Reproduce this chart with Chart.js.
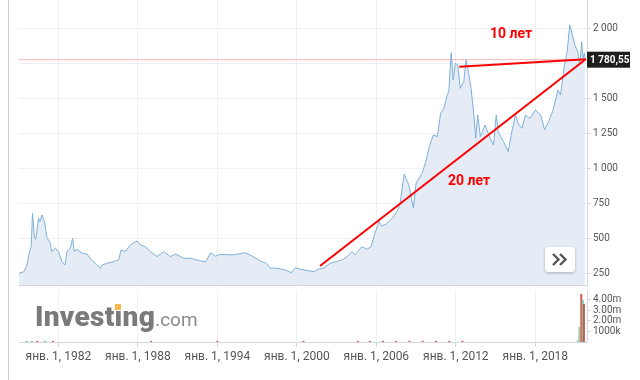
<!DOCTYPE html>
<html>
<head>
<meta charset="utf-8">
<script src="https://cdn.jsdelivr.net/npm/chart.js@4.4.1/dist/chart.umd.min.js"></script>
<style>
  html,body{margin:0;padding:0;background:#fff;width:640px;height:380px;overflow:hidden;}
  #wrap{position:relative;width:640px;height:380px;}
  #cA{position:absolute;left:0;top:0;}
  #cB{position:absolute;left:0;top:286px;}
  #border{position:absolute;left:8px;top:0;width:1px;height:380px;background:#cfcfcf;}
  #logo{position:absolute;left:35px;top:303px;font-family:Roboto,Arial,sans-serif;line-height:28px;white-space:nowrap;}
  #logo .a{font-size:28px;font-weight:900;color:#7a7a7a;letter-spacing:0.3px;}
  #logo .b{font-size:19px;font-weight:normal;color:#8a8a8a;}
  #dot{position:absolute;left:115px;top:304px;width:6px;height:6px;background:#f7b84b;}
  #btn{position:absolute;left:545px;top:247px;width:30px;height:25px;background:#fff;border-radius:3px;box-shadow:0 1px 3px rgba(0,0,0,0.25);}
</style>
</head>
<body>
<div id="wrap">
  <canvas id="cA" width="640" height="286"></canvas>
  <canvas id="cB" width="640" height="94"></canvas>
  <div id="border"></div>
  <div id="logo"><span class="a">Investing</span><span class="b">.com</span></div>
  <div id="dot"></div>
  <div id="btn"><svg width="30" height="25" viewBox="0 0 30 25"><polyline points="8,7 13.5,12.5 8,18" fill="none" stroke="#555" stroke-width="2.4"/><polyline points="15,7 20.5,12.5 15,18" fill="none" stroke="#555" stroke-width="2.4"/></svg></div>
</div>
<script>
// ---- data ----
const XMIN = 1979.03, XMAX = 2021.9;
const tickYears = [1982, 1988, 1994, 2000, 2006, 2012, 2018];
const priceTicks = [250, 500, 750, 1000, 1250, 1500, 1750, 2000];
const volTicks = [1, 2, 3, 4];
const currentPrice = 1780.55;

const years = [1979.03,1979.4,1979.6,1979.8,1979.95,1980.05,1980.2,1980.3,1980.5,1980.6,1980.77,1980.95,
1981.15,1981.35,1981.5,1981.77,1982.0,1982.27,1982.5,1982.65,1982.9,1983.08,1983.2,1983.4,1983.8,
1984.16,1984.5,1984.9,1985.17,1985.3,1985.67,1986.17,1986.55,1986.73,1987.06,1987.43,1987.94,
1988.2,1988.57,1988.94,1989.45,1989.95,1990.45,1990.83,1991.46,1991.96,1992.6,1993.1,1993.5,
1993.85,1994.2,1995.2,1996.1,1996.7,1997.2,1997.7,1998.0,1998.5,1999.1,1999.6,1999.9,2000.3,
2000.8,2001.3,2001.6,2002.0,2002.5,2003.0,2003.4,2003.8,2004.16,2004.4,2004.9,2005.3,2005.6,
2005.9,2006.2,2006.4,2006.75,2007.2,2007.55,2007.8,2008.1,2008.45,2008.8,2009.0,2009.45,2009.7,
2010.0,2010.3,2010.6,2010.85,2011.1,2011.35,2011.47,2011.65,2011.8,2011.96,2012.14,2012.34,
2012.6,2012.77,2012.97,2013.15,2013.35,2013.5,2013.65,2013.85,2014.2,2014.6,2014.85,2015.05,
2015.2,2015.6,2015.95,2016.25,2016.5,2016.75,2017.0,2017.25,2017.6,2018.0,2018.4,2018.7,
2019.0,2019.3,2019.5,2019.7,2019.9,2020.2,2020.4,2020.6,2020.8,2020.98,2021.2,2021.35,2021.5,
2021.6,2021.7,2021.78];
const prices = [255,266,302,398,445,684,505,498,648,624,671,624,
505,481,410,434,410,338,314,410,434,505,410,426,398,
393,350,314,291,314,326,338,350,421,410,457,486,
457,445,410,374,410,374,393,362,362,346,336,402,
376,389,386,402,374,345,326,291,291,279,259,295,283,
274,266,284,291,326,338,350,374,410,386,445,426,445,
541,625,593,607,648,695,755,964,886,719,898,969,1041,
1159,1243,1231,1398,1434,1529,1552,1831,1636,1755,1743,1576,
1624,1779,1684,1576,1398,1219,1386,1231,1314,1219,1171,1386,
1266,1195,1124,1279,1386,1314,1291,1386,1362,1421,1386,1279,
1338,1409,1481,1564,1529,1743,1838,2029,1957,1886,1838,1743,1909,
1791,1826,1780.55];

const trend20X = [2001.75, 2021.8];
const trend20Y = [307, 1784];
const trend10X = [2012.26, 2021.8];
const trend10Y = [1731, 1784];

const noteText = ["10 лет", "20 лет"];
const noteX = [2016.17, 2013.0];
const noteY = [1962, 909];

const volX = [1979.6,1980.0,1980.4,1981.0,1981.6,1989.0,1994.0,2000.5,2004.6,2005.5,2006.5,2007.5,2008.5,2009.5,2010.5,2011.5,2012.5,2021.2,2021.32,2021.47,2021.57,2021.67];
const volY = [0.08,0.08,0.08,0.08,0.08,0.08,0.08,0.08,0.08,0.08,0.08,0.08,0.08,0.08,0.08,0.08,0.08,0.15,1.4,4.55,4.0,3.6];
const volDir = ['g','g','r','g','r','r','r','r','r','r','r','r','r','r','r','r','r','n','n','r','g','r'];

// ---- helpers ----
function fmtNum(v){ return String(v).replace(/\B(?=(\d{3})+(?!\d))/g, '\u00a0'); }
function fmtPrice(v){ const p = v.toFixed(2).split('.'); return fmtNum(p[0]) + ',' + p[1]; }
const zip = (xs, ys) => xs.map((x, i) => ({x, y: ys[i]}));
const FONT = 'Roboto, Arial, sans-serif';
const gridCol = '#eef0f3';
const axisCol = '#d3d6da';
const noPad = s => { s.paddingTop = 0; s.paddingBottom = 0; s.paddingLeft = 0; s.paddingRight = 0; };

const annotPlugin = {
  id: 'annot',
  afterDraw(chart){
    const {ctx, scales:{x, y}, chartArea} = chart;
    ctx.save();
    ctx.font = 'bold 14px ' + FONT;
    ctx.fillStyle = '#ff0000';
    ctx.textAlign = 'center';
    ctx.textBaseline = 'middle';
    noteText.forEach((t, i) => ctx.fillText(t, x.getPixelForValue(noteX[i]), y.getPixelForValue(noteY[i])));
    const py = y.getPixelForValue(currentPrice);
    ctx.fillStyle = '#1e1e1e';
    ctx.fillRect(chartArea.right, py - 8, 43, 16);
    ctx.fillStyle = '#fff';
    ctx.font = 'bold 10px ' + FONT;
    ctx.textAlign = 'left';
    ctx.fillText(fmtPrice(currentPrice), chartArea.right + 3, py + 0.5);
    ctx.restore();
  }
};

new Chart(document.getElementById('cA'), {
  type: 'line',
  data: { datasets: [
    { data: zip(years, prices), borderColor: '#7eb0d9', borderWidth: 1, backgroundColor: 'rgba(224,233,243,0.85)', fill: 'start', pointRadius: 0, tension: 0, order: 4 },
    { data: zip([XMIN, XMAX], [currentPrice, currentPrice]), borderColor: 'rgba(232,120,120,0.55)', borderWidth: 1, pointRadius: 0, fill: false, order: 3 },
    { data: zip(trend20X, trend20Y), borderColor: '#ff0000', borderWidth: 2, pointRadius: 0, fill: false, order: 1 },
    { data: zip(trend10X, trend10Y), borderColor: '#ff0000', borderWidth: 2, pointRadius: 0, fill: false, order: 1 }
  ]},
  options: {
    responsive: false, animation: false,
    layout: { padding: { left: 19, top: 0, right: 0, bottom: 0 } },
    plugins: { legend: { display: false }, tooltip: { enabled: false } },
    scales: {
      x: { type: 'linear', min: XMIN, max: XMAX, offset: false,
        afterBuildTicks: s => { s.ticks = tickYears.map(v => ({value: v})); },
        ticks: { display: false },
        grid: { color: gridCol, drawTicks: false, offset: false },
        border: { display: true, color: axisCol },
        afterFit: s => { s.height = 1; noPad(s); } },
      y: { position: 'right', min: 171, max: 2207,
        afterBuildTicks: s => { s.ticks = priceTicks.map(v => ({value: v})); },
        ticks: { font: { family: FONT, size: 10 }, color: '#555', padding: 2,
          callback: v => v === 1750 ? '' : fmtNum(v) },
        grid: { color: gridCol, tickLength: 4, tickColor: axisCol },
        border: { color: axisCol },
        afterFit: s => { s.width = 53; noPad(s); } }
    }
  },
  plugins: [annotPlugin]
});

const volColor = {g: '#6cc593', r: '#d9534f', n: '#a9c9b4'};
new Chart(document.getElementById('cB'), {
  type: 'line',
  data: { datasets: [
    { type: 'bar', data: zip(volX, volY), backgroundColor: volDir.map(d => volColor[d]), barThickness: 1.3 }
  ]},
  options: {
    responsive: false, animation: false,
    layout: { padding: { left: 19, top: 4, right: 0, bottom: 0 } },
    plugins: { legend: { display: false }, tooltip: { enabled: false } },
    scales: {
      x: { type: 'linear', min: XMIN, max: XMAX, offset: false,
        afterBuildTicks: s => { s.ticks = tickYears.map(v => ({value: v})); },
        ticks: { font: { family: FONT, size: 12 }, color: '#555', padding: 3, maxRotation: 0, autoSkip: false,
          callback: v => 'янв. 1, ' + v },
        grid: { color: gridCol, tickLength: 5, tickColor: axisCol, offset: false },
        border: { display: true, color: axisCol },
        afterFit: s => { s.height = 38; noPad(s); } },
      y: { position: 'right', min: 0, max: 4.95,
        afterBuildTicks: s => { s.ticks = volTicks.map(v => ({value: v})); },
        ticks: { font: { family: FONT, size: 10 }, color: '#555', padding: 2,
          callback: v => v === 1 ? '1000k' : v.toFixed(2) + 'm' },
        grid: { drawOnChartArea: false, tickLength: 4, tickColor: axisCol },
        border: { color: axisCol },
        afterFit: s => { s.width = 53; noPad(s); } }
    }
  }
});
</script>
</body>
</html>
